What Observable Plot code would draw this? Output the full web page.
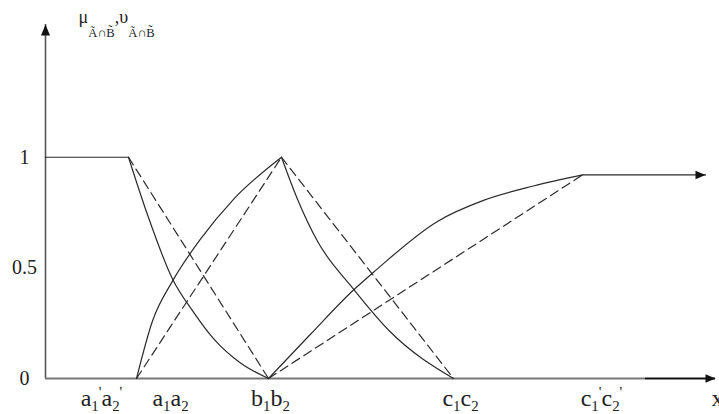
<!DOCTYPE html>
<html>
<head>
<meta charset="utf-8">
<script src="https://cdn.jsdelivr.net/npm/d3@7"></script>
<script src="https://cdn.jsdelivr.net/npm/@observablehq/plot@0.6"></script>
<style>
  html, body { margin: 0; padding: 0; background: #fff; }
  #chart { width: 719px; height: 414px; overflow: hidden; }
</style>
</head>
<body>
<div id="chart"></div>
<script>
// ---- data ----
const xMax = 67;
const yMax = 1.6;
const yTicks = [0, 0.5, 1];
const xLabels = ["a_{1}^{'}a_{2}^{'}", "a_{1}a_{2}", "b_{1}b_{2}", "c_{1}c_{2}", "c_{1}^{'}c_{2}^{'}"];
const xLabelPos = [5.6, 12.5, 22.5, 41.5, 55.6];
const xAxisLabel = "x";
const yAxisLabel = "μ_{Ã∩B̃},υ_{Ã∩B̃}";

// left plateau
const plateauLeftX = [0, 8.3];
const plateauLeftY = [1, 1];
// solid descending (a' -> b)
const muDown1X = [8.3, 10.2, 12.7, 14.8, 16.8, 19.5, 22.3];
const muDown1Y = [1, 0.74, 0.45, 0.30, 0.18, 0.07, 0];
// dashed descending (a' -> b)
const dashDown1X = [8.3, 22.3];
const dashDown1Y = [1, 0];
// solid ascending (a -> peak)
const nuUp1X = [9.1, 10.7, 12.7, 15.5, 18.8, 23.6];
const nuUp1Y = [0, 0.26, 0.44, 0.63, 0.81, 1];
// dashed ascending (a -> peak)
const dashUp1X = [9.1, 23.6];
const dashUp1Y = [0, 1];
// solid descending (peak -> c)
const muDown2X = [23.6, 25.2, 27.2, 30.7, 34.5, 40.8];
const muDown2Y = [1, 0.81, 0.62, 0.41, 0.21, 0];
// dashed descending (peak -> c)
const dashDown2X = [23.6, 40.8];
const dashDown2Y = [1, 0];
// solid ascending (b -> c')
const nuUp2X = [22.3, 26.5, 30.8, 32.8, 39.2, 43.8, 48.8, 53.7];
const nuUp2Y = [0, 0.20, 0.40, 0.48, 0.71, 0.805, 0.87, 0.92];
// dashed ascending (b -> c')
const dashUp2X = [22.3, 53.7];
const dashUp2Y = [0, 0.92];
// right plateau with arrow
const plateauRightX = [53.7, 66];
const plateauRightY = [0.92, 0.92];
// x axis: grey part then dark part
const xAxisSplit = 60;

// ---- helpers ----
const pts = (xs, ys) => xs.map((x, i) => ({x, y: ys[i]}));
const triUp = {draw(c) { c.moveTo(0, 0); c.lineTo(-4.5, 11); c.lineTo(4.5, 11); c.closePath(); }};
const triRight = {draw(c) { c.moveTo(0, 0); c.lineTo(-10, -4.2); c.lineTo(-10, 4.2); c.closePath(); }};

const ink = "#2a2a2a";
const solid = {x: "x", y: "y", stroke: ink, strokeWidth: 1.2, curve: "monotone-x"};
const dashed = {x: "x", y: "y", stroke: ink, strokeWidth: 1.2, strokeDasharray: "9,5"};

const plot = Plot.plot({
  width: 719,
  height: 414,
  marginLeft: 45,
  marginRight: 4,
  marginTop: 24,
  marginBottom: 36,
  x: {domain: [0, xMax], axis: null},
  y: {domain: [0, yMax], axis: null},
  style: {fontFamily: "'Liberation Serif', 'Times New Roman', serif", color: "#222", background: "#fff", overflow: "visible"},
  marks: [
    // axes
    Plot.ruleX([0], {y1: 0, y2: yMax, stroke: "#555", strokeWidth: 1.6}),
    Plot.ruleY([0], {x1: 0, x2: xAxisSplit, stroke: "#777", strokeWidth: 2}),
    Plot.ruleY([0], {x1: xAxisSplit, x2: xMax, stroke: "#111", strokeWidth: 2}),
    Plot.dot([{x: 0, y: yMax}], {x: "x", y: "y", symbol: triUp, fill: "#111", stroke: null}),
    Plot.dot([{x: xMax, y: 0}], {x: "x", y: "y", symbol: triRight, fill: "#111", stroke: null}),
    // curves
    Plot.line(pts(plateauLeftX, plateauLeftY), {x: "x", y: "y", stroke: ink, strokeWidth: 1.2}),
    Plot.line(pts(muDown1X, muDown1Y), solid),
    Plot.line(pts(dashDown1X, dashDown1Y), dashed),
    Plot.line(pts(nuUp1X, nuUp1Y), solid),
    Plot.line(pts(dashUp1X, dashUp1Y), dashed),
    Plot.line(pts(muDown2X, muDown2Y), solid),
    Plot.line(pts(dashDown2X, dashDown2Y), dashed),
    Plot.line(pts(nuUp2X, nuUp2Y), solid),
    Plot.line(pts(dashUp2X, dashUp2Y), dashed),
    Plot.line(pts(plateauRightX, plateauRightY), {x: "x", y: "y", stroke: ink, strokeWidth: 1.2}),
    Plot.dot([{x: plateauRightX[1], y: plateauRightY[1]}], {x: "x", y: "y", symbol: triRight, fill: "#111", stroke: null}),
    // tick labels
    Plot.text(yTicks, {x: 0, y: d => d, text: d => String(d), dx: -21, fontSize: 20, textAnchor: "middle", fill: "#222"}),
    Plot.text(xLabels, {x: (d, i) => xLabelPos[i], y: 0, text: d => d, dy: 20, fontSize: 24, textAnchor: "middle", fill: "#222"}),
    Plot.text([xAxisLabel], {x: xMax, y: 0, text: d => d, dx: -4, dy: 20, fontSize: 24, textAnchor: "start", fill: "#222"}),
    Plot.text([yAxisLabel], {frameAnchor: "top-left", text: d => d, dx: 33, dy: -14, fontSize: 18, textAnchor: "start", fill: "#222"})
  ]
});

document.getElementById("chart").appendChild(plot);

// turn _{..} and ^{..} into subscript / superscript tspans
function richText(el, subShift, supShift, scale) {
  const s = el.textContent;
  if (!/[_^]\{/.test(s)) return;
  const fs = parseFloat(getComputedStyle(el).fontSize) || 16;
  const re = /_\{([^}]*)\}|\^\{([^}]*)\}|([^_^]+)/g;
  el.textContent = "";
  let cur = 0, m;
  while ((m = re.exec(s))) {
    const t = document.createElementNS("http://www.w3.org/2000/svg", "tspan");
    let target, small = false, txt;
    if (m[1] !== undefined) { target = subShift * fs; small = true; txt = m[1]; }
    else if (m[2] !== undefined) { target = -supShift * fs; small = true; txt = m[2]; }
    else { target = 0; txt = m[3]; }
    t.setAttribute("dy", (target - cur).toFixed(2));
    if (small) t.setAttribute("font-size", (fs * scale).toFixed(1));
    t.textContent = txt;
    el.appendChild(t);
    cur = target;
  }
}
plot.querySelectorAll("text").forEach(el => {
  if (el.textContent.includes("μ")) richText(el, 0.75, 0.4, 0.7);
  else richText(el, 0.18, 0.4, 0.62);
});
</script>
</body>
</html>
